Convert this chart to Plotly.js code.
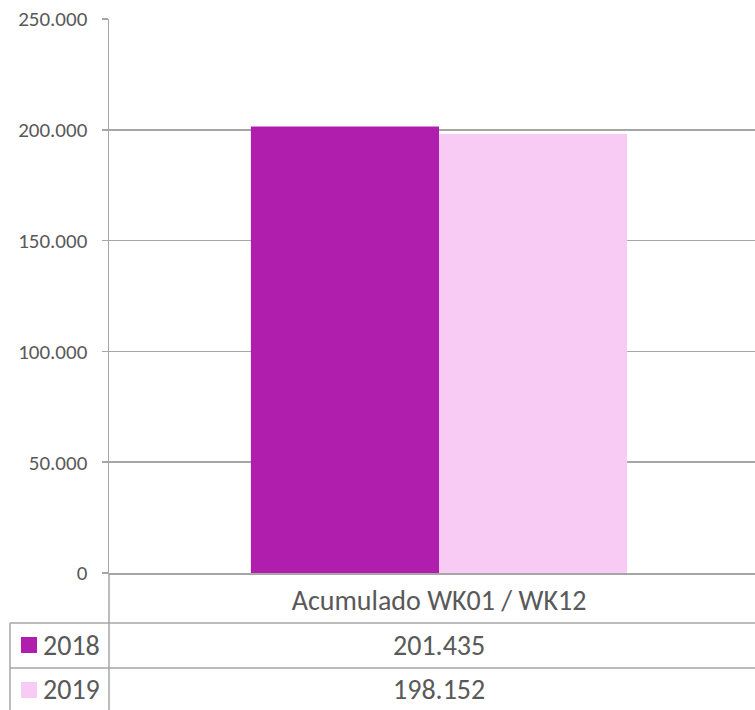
<!DOCTYPE html>
<html>
<head>
<meta charset="utf-8">
<script src="https://cdn.plot.ly/plotly-3.0.1.min.js"></script>
<style>
  html, body { margin: 0; padding: 0; background: #ffffff; }
  #chart { width: 755px; height: 710px; }
</style>
</head>
<body>
<div id="chart"></div>
<script>
// ---- data ----
const categories = ["Acumulado WK01 / WK12"];
const seriesNames = ["2018", "2019"];
const values2018 = [201435];
const values2019 = [198152];
const yTickValues = [0, 50000, 100000, 150000, 200000, 250000];

// ---- styling ----
const colors = ["#B01EAD", "#F7CBF3"];
const textColor = "#595959";
const lineColor = "#A6A6A6";
const fontFamily = "Carlito, Lato, 'Liberation Sans', sans-serif";

const W = 755, H = 710;
const M = { l: 109, r: 0, t: 19, b: 137 };
const plotW = W - M.l - M.r, plotH = H - M.t - M.b;
const px = x => (x - M.l) / plotW;          // pixel -> paper x
const py = y => (H - M.b - y) / plotH;      // pixel -> paper y

function fmt(v) {
  return String(Math.round(v)).replace(/\B(?=(\d{3})+(?!\d))/g, ".");
}

const allSeries = [values2018, values2019];
const traces = allSeries.map((vals, i) => ({
  type: "bar",
  name: seriesNames[i],
  x: categories,
  y: vals,
  marker: { color: colors[i], line: { width: 0 } },
  hoverinfo: "none",
  showlegend: false
}));

// table lines
const shapes = [];
const L = (x0, y0, x1, y1) => shapes.push({
  type: "line", xref: "paper", yref: "paper",
  x0: px(x0), y0: py(y0), x1: px(x1), y1: py(y1),
  line: { color: lineColor, width: 1.5 }, layer: "above"
});
L(10, 623, 755, 623);
L(10, 668, 755, 668);
L(10, 623, 10, 712);
L(109, 573, 109, 712);

// legend keys in the table
const rowCenters = [645, 690];
const annotations = [];
seriesNames.forEach((name, i) => {
  const cy = rowCenters[i];
  shapes.push({
    type: "rect", xref: "paper", yref: "paper",
    x0: px(21), x1: px(37), y0: py(cy - 8), y1: py(cy + 8),
    fillcolor: colors[i], line: { width: 0 }
  });
  annotations.push({
    xref: "paper", yref: "paper", x: px(41), y: py(cy),
    xanchor: "left", yanchor: "middle", showarrow: false,
    text: name, font: { family: fontFamily, size: 28, color: textColor }
  });
  categories.forEach((c, j) => {
    annotations.push({
      xref: "x", yref: "paper", x: c, y: py(cy),
      xanchor: "center", yanchor: "middle", showarrow: false,
      text: fmt(allSeries[i][j]),
      font: { family: fontFamily, size: 28, color: textColor }
    });
  });
});

const layout = {
  width: W, height: H,
  margin: M,
  paper_bgcolor: "#ffffff",
  plot_bgcolor: "#ffffff",
  separators: ",.",
  barmode: "group",
  bargap: 0.43,
  bargroupgap: 0,
  font: { family: fontFamily, color: textColor },
  xaxis: {
    type: "category",
    range: [-0.5, 0.4788],
    showgrid: false,
    zeroline: false,
    showline: true,
    linecolor: lineColor,
    linewidth: 1.5,
    ticks: "",
    tickfont: { family: fontFamily, size: 28, color: textColor },
    ticklabelstandoff: 2,
    fixedrange: true
  },
  yaxis: {
    range: [0, 250000],
    tickvals: yTickValues,
    ticktext: yTickValues.map(fmt),
    showgrid: true,
    gridcolor: lineColor,
    gridwidth: 1.5,
    zeroline: false,
    showline: true,
    linecolor: lineColor,
    linewidth: 1.5,
    ticks: "outside",
    ticklen: 6,
    tickcolor: lineColor,
    tickwidth: 1.5,
    tickfont: { family: fontFamily, size: 21, color: textColor },
    ticklabelstandoff: 10,
    fixedrange: true
  },
  shapes: shapes,
  annotations: annotations,
  showlegend: false
};

Plotly.newPlot("chart", traces, layout, { staticPlot: true, displayModeBar: false });
</script>
</body>
</html>
